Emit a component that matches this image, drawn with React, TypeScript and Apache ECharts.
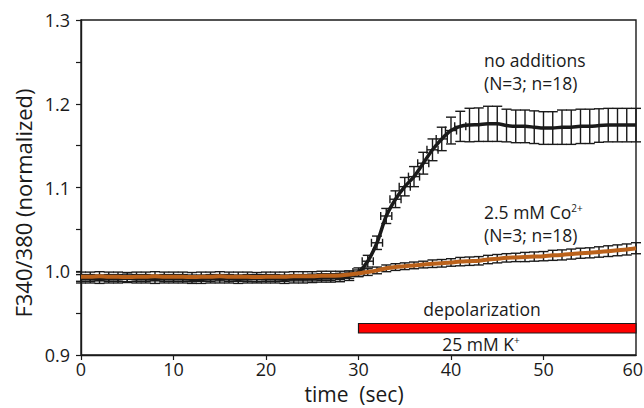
import React, { useEffect, useRef } from "react";
import * as echarts from "echarts";

const times = [
  0, 1, 2, 3, 4, 5, 6, 7, 8, 9, 10, 11, 12, 13, 14, 15, 16, 17, 18, 19, 20,
  21, 22, 23, 24, 25, 26, 27, 28, 29, 30, 31, 32, 33, 34, 35, 36, 37, 38, 39, 40,
  41, 42, 43, 44, 45, 46, 47, 48, 49, 50, 51, 52, 53, 54, 55, 56, 57, 58, 59, 60,
];

// "no additions" (N=3; n=18)
const noAdditions = [
  0.991, 0.991, 0.9905, 0.991, 0.991, 0.9915, 0.991, 0.991, 0.9905, 0.991, 0.991,
  0.991, 0.9905, 0.9905, 0.991, 0.991, 0.991, 0.9905, 0.991, 0.991, 0.991,
  0.991, 0.9905, 0.991, 0.991, 0.9915, 0.992, 0.992, 0.9925, 0.994, 0.999,
  1.012, 1.034, 1.066, 1.086, 1.101, 1.113, 1.129, 1.145, 1.158, 1.168,
  1.173, 1.1746, 1.175, 1.176, 1.176, 1.174, 1.173, 1.173, 1.172, 1.171,
  1.171, 1.172, 1.172, 1.173, 1.173, 1.174, 1.1745, 1.1745, 1.1745, 1.1745,
];
const noAdditionsErr = [
  0.005, 0.005, 0.005, 0.005, 0.005, 0.005, 0.005, 0.005, 0.005, 0.005, 0.005,
  0.005, 0.005, 0.005, 0.005, 0.005, 0.005, 0.005, 0.005, 0.005, 0.005,
  0.005, 0.005, 0.005, 0.005, 0.005, 0.005, 0.005, 0.005, 0.005, 0.005,
  0.007, 0.008, 0.009, 0.01, 0.011, 0.012, 0.013, 0.013, 0.014, 0.016,
  0.018, 0.02, 0.02, 0.021, 0.021, 0.0195, 0.0195, 0.0195, 0.0195, 0.0195,
  0.0195, 0.0205, 0.0205, 0.0205, 0.0205, 0.02, 0.02, 0.02, 0.02, 0.02,
];
const noAdditionsTimeErr = [
  0, 0, 0, 0, 0, 0, 0, 0, 0, 0, 0,
  0, 0, 0, 0, 0, 0, 0, 0, 0, 0,
  0, 0, 0, 0, 0, 0, 0, 0, 0, 0.6,
  0.6, 0.6, 0.6, 0.6, 0.6, 0.6, 0.6, 0.6, 0.6, 0.6,
  0.6, 0, 0, 0, 0, 0, 0, 0, 0, 0,
  0, 0, 0, 0, 0, 0, 0, 0, 0, 0,
];

// "2.5 mM Co2+" (N=3; n=18)
const cobalt = [
  0.9935, 0.9935, 0.994, 0.9935, 0.9935, 0.993, 0.9935, 0.9935, 0.994, 0.9935, 0.9935,
  0.9935, 0.993, 0.9935, 0.9935, 0.994, 0.9935, 0.9935, 0.9935, 0.993, 0.9935,
  0.9935, 0.9935, 0.994, 0.994, 0.994, 0.9945, 0.9945, 0.995, 0.996, 0.9975,
  0.999, 1.001, 1.0035, 1.005, 1.006, 1.007, 1.008, 1.009, 1.0095, 1.0105,
  1.0115, 1.012, 1.0125, 1.014, 1.015, 1.016, 1.0165, 1.017, 1.0175, 1.018,
  1.019, 1.0195, 1.0205, 1.0215, 1.022, 1.023, 1.024, 1.025, 1.026, 1.0275,
];
const cobaltErr = [
  0.0055, 0.0055, 0.0055, 0.0055, 0.0055, 0.0055, 0.0055, 0.0055, 0.0055, 0.0055, 0.0055,
  0.0055, 0.0055, 0.0055, 0.0055, 0.0055, 0.0055, 0.0055, 0.0055, 0.0055, 0.0055,
  0.0055, 0.0055, 0.0055, 0.0055, 0.0055, 0.0055, 0.0055, 0.005, 0.0045, 0.004,
  0.004, 0.004, 0.004, 0.004, 0.004, 0.004, 0.004, 0.0045, 0.0045, 0.0045,
  0.005, 0.005, 0.005, 0.005, 0.005, 0.005, 0.005, 0.0055, 0.0055, 0.0055,
  0.006, 0.006, 0.006, 0.006, 0.006, 0.0062, 0.0064, 0.0065, 0.0066, 0.0066,
];

// depolarization period (25 mM K+)
const depolStart = 30;
const depolEnd = 60;

const xTicks = { min: 0, max: 60, interval: 10 };
const yTicks = { min: 0.9, max: 1.3, interval: 0.1 };
const xMaxLabel = "60";

const FONT = "'Open Sans', 'Noto Sans', sans-serif";
const INK = "#1a1a1a";
const ORANGE = "#bb621b";

function errorBars(vals: number[], errs: number[], xerrs: number[] | null, z: number) {
  return {
    type: "custom",
    z,
    silent: true,
    clip: false,
    data: times.map((t, i) => [t, vals[i], errs[i], xerrs ? xerrs[i] : 0]),
    renderItem: (_params: any, api: any) => {
      const t = api.value(0);
      const v = api.value(1);
      const e = api.value(2);
      const ex = api.value(3);
      const top = api.coord([t, v + e]);
      const bot = api.coord([t, v - e]);
      const cap = 5;
      const xcap = 4;
      const style = { stroke: INK, lineWidth: 1.4 };
      const children: any[] = [
        { type: "line", shape: { x1: top[0], y1: top[1], x2: bot[0], y2: bot[1] }, style },
        { type: "line", shape: { x1: top[0] - cap, y1: top[1], x2: top[0] + cap, y2: top[1] }, style },
        { type: "line", shape: { x1: bot[0] - cap, y1: bot[1], x2: bot[0] + cap, y2: bot[1] }, style },
      ];
      if (ex > 0) {
        const l = api.coord([t - ex, v]);
        const r = api.coord([t + ex, v]);
        children.push(
          { type: "line", shape: { x1: l[0], y1: l[1], x2: r[0], y2: r[1] }, style },
          { type: "line", shape: { x1: l[0], y1: l[1] - xcap, x2: l[0], y2: l[1] + xcap }, style },
          { type: "line", shape: { x1: r[0], y1: r[1] - xcap, x2: r[0], y2: r[1] + xcap }, style }
        );
      }
      return { type: "group", children };
    },
  };
}

export default function App() {
  const ref = useRef<HTMLDivElement>(null);
  useEffect(() => {
    document.body.style.margin = "0";
    document.body.style.overflow = "hidden";
    document.documentElement.style.overflow = "hidden";
    const chart = echarts.init(ref.current!, null, { renderer: "svg" });
    const option: any = {
      animation: false,
      backgroundColor: "#ffffff",
      grid: {
        left: 81,
        right: 8,
        top: 20,
        bottom: 53,
        outerBoundsMode: "none",
        containLabel: false,
        show: true,
        borderColor: INK,
        borderWidth: 1.4,
        backgroundColor: "transparent",
      },
      xAxis: {
        type: "value",
        min: xTicks.min,
        max: xTicks.max,
        interval: xTicks.interval,
        axisLine: { show: true, lineStyle: { color: INK, width: 1.4 } },
        axisTick: { show: true, length: 5, lineStyle: { color: INK, width: 1.2 } },
        splitLine: { show: false },
        axisLabel: { color: INK, fontSize: 18, fontFamily: FONT, margin: 5, showMaxLabel: false },
      },
      yAxis: {
        type: "value",
        min: yTicks.min,
        max: yTicks.max,
        interval: yTicks.interval,
        axisLine: { show: true, lineStyle: { color: INK, width: 1.4 } },
        axisTick: { show: true, length: 5, lineStyle: { color: INK, width: 1.2 } },
        minorTick: { show: true, splitNumber: 2, length: 5, lineStyle: { color: INK, width: 1.2 } },
        splitLine: { show: false },
        minorSplitLine: { show: false },
        axisLabel: {
          color: INK,
          fontSize: 18,
          fontFamily: FONT,
          margin: 11,
          formatter: (v: number) => v.toFixed(1),
        },
      },
      series: [
        errorBars(noAdditions, noAdditionsErr, noAdditionsTimeErr, 2),
        {
          type: "line",
          z: 3,
          silent: true,
          showSymbol: false,
          smooth: 0.3,
          data: times.map((t, i) => [t, noAdditions[i]]),
          lineStyle: { color: INK, width: 3.5 },
        },
        errorBars(cobalt, cobaltErr, null, 4),
        {
          type: "line",
          z: 5,
          silent: true,
          showSymbol: false,
          smooth: 0.3,
          data: times.map((t, i) => [t, cobalt[i]]),
          lineStyle: { color: ORANGE, width: 4 },
        },
        {
          type: "custom",
          z: 6,
          silent: true,
          clip: false,
          data: [[depolStart, depolEnd]],
          renderItem: (_params: any, api: any) => {
            const a = api.coord([api.value(0), yTicks.min]);
            const b = api.coord([api.value(1), yTicks.min]);
            return {
              type: "rect",
              shape: { x: a[0], y: a[1] - 31.5, width: b[0] - a[0], height: 9.5 },
              style: { fill: "#ff0000", stroke: INK, lineWidth: 1.2 },
            };
          },
        },
      ],
      graphic: [
        {
          type: "text",
          right: 1,
          top: 360,
          style: { text: xMaxLabel, fill: INK, fontSize: 18, fontFamily: FONT },
        },
        {
          type: "text",
          x: 23,
          y: 203,
          rotation: Math.PI / 2,
          style: {
            text: "F340/380 (normalized)",
            fill: INK,
            fontSize: 22,
            fontFamily: FONT,
            align: "center",
            verticalAlign: "middle",
          },
        },
        {
          type: "text",
          x: 354,
          y: 394,
          style: {
            text: "time  (sec)",
            fill: INK,
            fontSize: 21,
            fontFamily: FONT,
            align: "center",
            verticalAlign: "middle",
          },
        },
        {
          type: "text",
          x: 484,
          y: 60,
          style: { text: "no additions", fill: INK, fontSize: 17.5, fontFamily: FONT, align: "left", verticalAlign: "middle" },
        },
        {
          type: "text",
          x: 484,
          y: 83,
          style: { text: "(N=3; n=18)", fill: INK, fontSize: 17.5, fontFamily: FONT, align: "left", verticalAlign: "middle" },
        },
        {
          type: "text",
          x: 484,
          y: 212,
          style: {
            text: "2.5 mM Co{sup|2+}",
            fill: INK,
            fontSize: 17.5,
            fontFamily: FONT,
            align: "left",
            verticalAlign: "middle",
            rich: { sup: { fontSize: 10, fontFamily: FONT, fill: INK, verticalAlign: "top", padding: [0, 0, 8, 0] } },
          },
        },
        {
          type: "text",
          x: 484,
          y: 235,
          style: { text: "(N=3; n=18)", fill: INK, fontSize: 17.5, fontFamily: FONT, align: "left", verticalAlign: "middle" },
        },
        {
          type: "text",
          x: 482,
          y: 309,
          style: { text: "depolarization", fill: INK, fontSize: 17.5, fontFamily: FONT, align: "center", verticalAlign: "middle" },
        },
        {
          type: "text",
          x: 481,
          y: 344,
          style: {
            text: "25 mM K{sup|+}",
            fill: INK,
            fontSize: 17.5,
            fontFamily: FONT,
            align: "center",
            verticalAlign: "middle",
            rich: { sup: { fontSize: 10, fontFamily: FONT, fill: INK, verticalAlign: "top", padding: [0, 0, 8, 0] } },
          },
        },
      ],
    };
    chart.setOption(option);
    return () => chart.dispose();
  }, []);
  return <div ref={ref} style={{ width: 644, height: 408 }} />;
}
